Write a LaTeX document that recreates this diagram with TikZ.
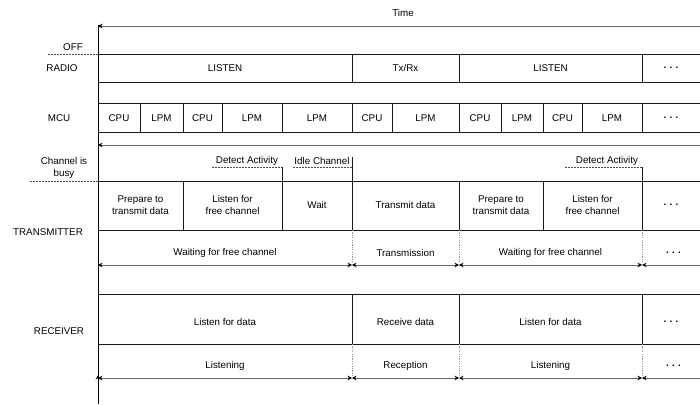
\documentclass[tikz,border=0pt]{standalone}
\usepackage{fontspec}
\setmainfont{Liberation Sans}
\usetikzlibrary{arrows.meta}
\tikzset{
  fila/.style={draw=black!90, line width=0.9pt},
  guia/.style={draw=black!70, dash pattern=on 1.5pt off 1.5pt, line width=0.7pt},
  punteada/.style={draw=black!40, dash pattern=on 1.2pt off 1.2pt, line width=0.8pt},
  flecha/.style={draw=black!60, line width=0.9pt, {Stealth[length=4.5pt,width=4.5pt,black]}-{Stealth[length=4.5pt,width=4.5pt,black]}},
  texto/.style={font=\fontsize{9.8}{11.5}\selectfont, align=center, inner sep=0pt},
}
\newcommand{\puntos}{\textbf{.\,\,.\,\,.}}
\begin{document}
\begin{tikzpicture}[x=1pt,y=-1pt]
    \useasboundingbox (0,0) rectangle (700,404);

    % Eje de tiempo
    \coordinate (origen) at (98,404);
    \coordinate (cima) at (98,25);
    \draw[line width=0.9pt] (origen) -- (cima);
    \draw[line width=0.8pt, -{Stealth[length=4.5pt,width=4.5pt]}] (98,383) -- (98,375);
    \coordinate (tfin) at (705,26);
    \coordinate (tini) at (98,26);
    \draw[draw=black!60, line width=0.9pt, -{Stealth[length=4.5pt,width=4.5pt,black]}] (tfin) -- (tini);
    \node[texto] (tiempo) at (403,13) {Time};
    \coordinate (sfin) at (705,145);
    \coordinate (sini) at (98,145);
    \draw[draw=black!60, line width=0.9pt, -{Stealth[length=4.5pt,width=4.5pt,black]}] (sfin) -- (sini);

    % Etiquetas de la izquierda
    \node[texto] (off) at (73,47) {OFF};
    \draw[guia] (48,54) -- (98,54);
    \node[texto] (radio) at (62,68) {RADIO};
    \node[texto] (mcu) at (59,118) {MCU};
    \node[texto] (ocupado) at (64,168) {Channel is\\busy};
    \draw[guia] (30,181) -- (98,181);
    \node[texto] (tx) at (48,232) {TRANSMITTER};
    \node[texto] (rx) at (59,331) {RECEIVER};

    % Filas
    \draw[fila] (98,54) -- (705,54) (98,82) -- (705,82);
    \draw[fila] (98,103) -- (705,103) (98,132) -- (705,132);
    \draw[fila] (98,181) -- (705,181) (98,230) -- (705,230);
    \draw[fila] (98,294) -- (705,294) (98,344) -- (705,344);

    % Radio
    \foreach \a/\b/\t [count=\i] in {98/352/LISTEN, 352/459/{Tx/Rx}, 459/642/LISTEN, 642/700/\puntos} {
        \node[texto] (radio\i) at ({(\a+\b)/2},68) {\t};
        \draw[fila] (\b,54) -- (\b,82);
    }

    % MCU
    \foreach \a/\b/\t [count=\i] in {98/140/CPU, 140/183/LPM, 183/222/CPU, 222/282/LPM, 282/352/LPM,
        352/392/CPU, 392/459/LPM, 459/501/CPU, 501/543/LPM, 543/582/CPU, 582/642/LPM, 642/700/\puntos} {
        \node[texto] (mcu\i) at ({(\a+\b)/2},118) {\t};
        \draw[fila] (\b,103) -- (\b,132);
    }

    % Transmisor
    \foreach \a/\b/\t [count=\i] in {98/183/{Prepare to\\transmit data}, 183/282/{Listen for\\free channel},
        282/352/Wait, 352/459/Transmit data, 459/543/{Prepare to\\transmit data},
        543/642/{Listen for\\free channel}, 642/700/\puntos} {
        \node[texto] (tx\i) at ({(\a+\b)/2},205) {\t};
    }
    \foreach \x in {183,459,543} \draw[fila] (\x,181) -- (\x,230);
    \draw[fila] (282,167) -- (282,230);
    \draw[fila] (352,157) -- (352,230);
    \draw[fila] (642,167) -- (642,230);
    \node[texto] (det1) at (247,161) {Detect Activity};
    \draw[guia] (212,167) -- (282,167);
    \node[texto] (idle) at (322,161) {Idle Channel};
    \draw[guia] (293,167) -- (352,167);
    \node[texto] (det2) at (607,161) {Detect Activity};
    \draw[guia] (565,167) -- (642,167);

    % Receptor
    \foreach \a/\b/\t [count=\i] in {98/352/Listen for data, 352/459/Receive data,
        459/642/Listen for data, 642/700/\puntos} {
        \node[texto] (rx\i) at ({(\a+\b)/2},322) {\t};
    }
    \foreach \x in {352,459,642} \draw[fila] (\x,294) -- (\x,344);

    % Duraciones
    \foreach \a/\b/\t/\u [count=\i] in {98/352/Waiting for free channel/Listening,
        352/459/Transmission/Reception, 459/642/Waiting for free channel/Listening,
        642/705/\puntos/\puntos} {
        \coordinate (ta\i) at (\a,265);
        \coordinate (tb\i) at (\b,265);
        \draw[flecha] (ta\i) -- (tb\i);
        \node[texto] (dt\i) at ({(\a+\b)/2},253) {\t};
        \coordinate (ra\i) at (\a,378);
        \coordinate (rb\i) at (\b,378);
        \draw[flecha] (ra\i) -- (rb\i);
        \node[texto] (dr\i) at ({(\a+\b)/2},366) {\u};
    }
    \foreach \x in {352,459,642} {
        \draw[punteada] (\x,230) -- (\x,265);
        \draw[punteada] (\x,344) -- (\x,378);
    }
\end{tikzpicture}
\end{document}
